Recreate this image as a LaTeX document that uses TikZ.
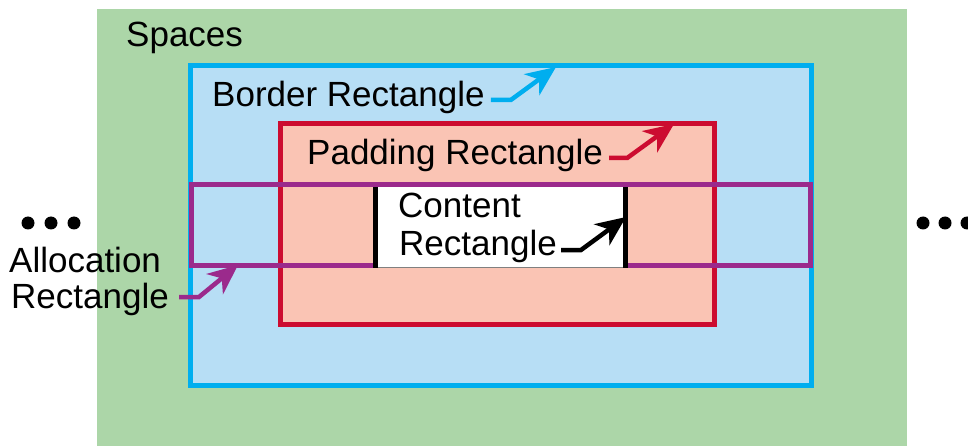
\documentclass[tikz,border=0pt]{standalone}
\usepackage{fontspec}
\setmainfont{Liberation Sans}
\definecolor{spacegreen}{RGB}{172, 214, 168}
\definecolor{borderblue}{RGB}{0, 174, 239}
\definecolor{borderfill}{RGB}{183, 222, 245}
\definecolor{paddingred}{RGB}{204, 12, 48}
\definecolor{paddingfill}{RGB}{250, 196, 180}
\definecolor{allocpurple}{RGB}{155, 42, 140}
\usepackage{tikz}
\usetikzlibrary{arrows.meta, positioning}

\tikzset{
  lbl/.style={anchor=base west, inner sep=0pt, font=\fontsize{35}{37}\selectfont},
  pointer/.style={line width=4.5pt, line join=miter, -{Stealth[length=30pt, width=26pt, inset=9pt]}},
  dot/.style={circle, fill=black, inner sep=0pt, minimum size=13pt}
}

\begin{document}
\begin{tikzpicture}[x=1pt, y=-1pt]
  \useasboundingbox (0,0) rectangle (968,446);

  % Spaces
  \fill[spacegreen] (97,9) rectangle (907,446);

  % Border rectangle
  \filldraw[fill=borderfill, draw=borderblue, line width=5pt] (190.5,65.5) rectangle (811.5,385.5);

  % Padding rectangle
  \filldraw[fill=paddingfill, draw=paddingred, line width=5pt] (280.5,123.5) rectangle (714.5,324.5);

  % Allocation rectangle
  \draw[allocpurple, line width=5pt] (191,184.5) rectangle (810.5,265.5);

  % Content rectangle
  \fill[white] (375,187) rectangle (626,267);
  \draw[gray, line width=0.8pt] (373,267.5) -- (628,267.5);
  \draw[line width=5pt] (375.5,187) -- (375.5,268) (625.5,187) -- (625.5,268);

  % Labels
  \node[lbl] (spaces) at (126,47) {Spaces};
  \node[lbl] (border) at (212,107) {Border Rectangle};
  \node[lbl] (padding) at (307,165) {Padding Rectangle};
  \node[lbl] (content) at (398,218) {Content};
  \node[lbl] (contentb) at (399,255) {Rectangle};
  \node[lbl] (alloc) at (9,272) {Allocation};
  \node[lbl] (allocb) at (11,308) {Rectangle};

  % Pointers
  \coordinate (bordertip) at (556,67);
  \coordinate (paddingtip) at (674,124);
  \coordinate (contenttip) at (626,217);
  \coordinate (alloctip) at (238,265);
  \draw[pointer, borderblue] ([shift={(6,-7)}]border.base east) -- ++(20,0) -- (bordertip);
  \draw[pointer, paddingred] ([shift={(6,-7)}]padding.base east) -- ++(18,0) -- (paddingtip);
  \draw[pointer, black] ([shift={(4,-5)}]contentb.base east) -- ++(20,0) -- (contenttip);
  \draw[pointer, allocpurple] ([shift={(10,-11)}]allocb.base east) -- ++(20,0) -- (alloctip);

  % Dots
  \node[dot] (ldota) at (28,223) {};
  \node[dot] (ldotb) at (51,223) {};
  \node[dot] (ldotc) at (74,223) {};
  \node[dot] (rdota) at (923,223) {};
  \node[dot] (rdotb) at (945,223) {};
  \node[dot] (rdotc) at (967,223) {};
\end{tikzpicture}
\end{document}
